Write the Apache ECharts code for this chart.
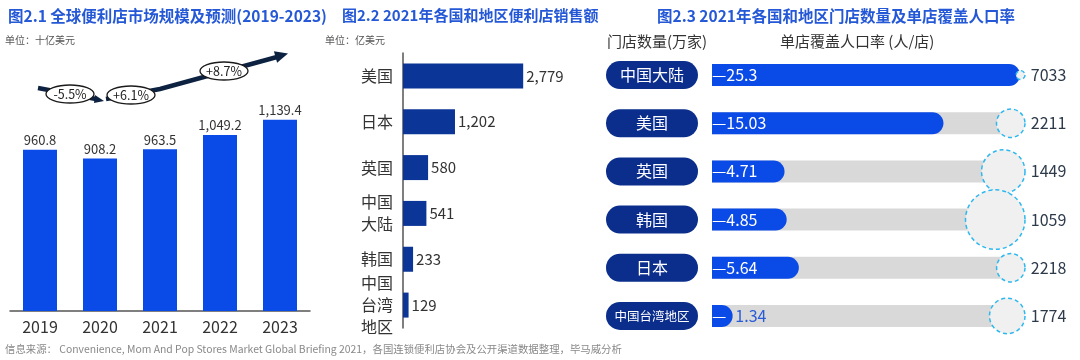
<!DOCTYPE html>
<html lang="zh">
<head>
<meta charset="UTF-8">
<title>便利店</title>
<script src="https://cdn.jsdelivr.net/npm/echarts@6/dist/echarts.min.js"></script>
<style>
  html, body { margin: 0; padding: 0; background: #fff; }
  #main { width: 1080px; height: 360px; }
</style>
</head>
<body>
<div id="main"></div>
<script type="text/javascript">
  // 图2.1
  var years = ['2019', '2020', '2021', '2022', '2023'];
  var marketSize = [960.8, 908.2, 963.5, 1049.2, 1139.4];
  var growthLabels = ['-5.5%', '+6.1%', '+8.7%'];
  // 图2.2
  var salesRegions = ['美国', '日本', '英国', '中国\n大陆', '韩国', '中国\n台湾\n地区'];
  var salesValues = [2779, 1202, 580, 541, 233, 129];
  // 图2.3
  var storeRegions = ['中国大陆', '美国', '英国', '韩国', '日本', '中国台湾地区'];
  var storeCounts = [25.3, 15.03, 4.71, 4.85, 5.64, 1.34];
  var coverage = [7033, 2211, 1449, 1059, 2218, 1774];

  var FONT = '"Noto Sans CJK SC", "Noto Sans", sans-serif';
  var TITLE_BLUE = '#2458d6';
  var BRIGHT = '#0a4ae6';
  var NAVY = '#0b3596';
  var PILL = '#0b2e8c';

  function titleText(text, left, top, size, color, weight) {
    return {
      text: text, left: left, top: top, padding: 0,
      textStyle: { fontFamily: FONT, fontSize: size, color: color, fontWeight: weight || 'normal' }
    };
  }

  var chart = echarts.init(document.getElementById('main'));

  // arrow + growth ellipses (annotation)
  var ellipses = [[70, 94], [131, 95], [224, 71]];
  var graphics = [
    { type: 'polyline', z: 10, shape: { points: [[38, 88], [96, 99]] }, style: { stroke: '#0d2240', lineWidth: 4.5, fill: null } },
    { type: 'polygon', z: 10, shape: { points: [[104, 101], [95, 95], [94, 103]] }, style: { fill: '#0d2240' } },
    { type: 'polyline', z: 10, shape: { points: [[106, 99], [160, 89], [277, 57]] }, style: { stroke: '#0d2240', lineWidth: 4.5, fill: null } },
    { type: 'polygon', z: 10, shape: { points: [[288, 53.5], [277.1, 62.8], [273.9, 51.2]] }, style: { fill: '#0d2240' } }
  ];
  ellipses.forEach(function (c, i) {
    graphics.push({
      type: 'ellipse', z: 11, shape: { cx: c[0], cy: c[1], rx: 24, ry: 9 },
      style: { fill: '#fff', stroke: '#1a1a1a', lineWidth: 1.3 }
    });
    graphics.push({
      type: 'text', z: 12, x: c[0], y: c[1],
      style: { text: growthLabels[i], fontFamily: FONT, fontSize: 12.5, fill: '#222', align: 'center', verticalAlign: 'middle' }
    });
  });

  var option = {
    animation: false,
    backgroundColor: '#fff',
    title: [
      titleText('图2.1 全球便利店市场规模及预测(2019-2023)', 8, 8, 15.5, TITLE_BLUE, 'bold'),
      titleText('单位：十亿美元', 5, 35, 10, '#555'),
      titleText('图2.2 2021年各国和地区便利店销售额', 342, 8, 15, TITLE_BLUE, 'bold'),
      titleText('单位：亿美元', 325, 35, 10, '#555'),
      titleText('图2.3 2021年各国和地区门店数量及单店覆盖人口率', 657, 8, 15.5, TITLE_BLUE, 'bold'),
      titleText('门店数量(万家)', 607, 34, 15, '#333'),
      titleText('单店覆盖人口率 (人/店)', 780, 34, 15, '#333'),
      titleText('信息来源： Convenience, Mom And Pop Stores Market Global Briefing 2021，各国连锁便利店协会及公开渠道数据整理，毕马威分析', 5, 344, 10.4, '#888')
    ],
    graphic: graphics,
    grid: [
      { left: 10, top: 76, width: 300, height: 235 },
      { left: 403, top: 53, width: 173, height: 275 },
      { left: 712, top: 51, width: 308, height: 289 }
    ],
    xAxis: [
      {
        gridIndex: 0, type: 'category', data: years,
        axisLine: { lineStyle: { color: '#555', width: 1.5 } },
        axisTick: { show: false },
        axisLabel: { fontFamily: FONT, fontSize: 16, color: '#333', margin: 8 }
      },
      { gridIndex: 1, type: 'value', min: 0, max: 4000, show: false },
      { gridIndex: 2, type: 'value', min: 0, max: 20, show: false }
    ],
    yAxis: [
      { gridIndex: 0, type: 'value', min: 0, max: 1400, show: false },
      {
        gridIndex: 1, type: 'category', data: salesRegions, inverse: true,
        axisLine: { lineStyle: { color: '#555', width: 1.5 } },
        axisTick: { show: false },
        axisLabel: { fontFamily: FONT, fontSize: 16, lineHeight: 22, color: '#333', margin: 10 }
      },
      {
        gridIndex: 2, type: 'category', data: storeRegions, inverse: true,
        axisLine: { show: false }, axisTick: { show: false },
        axisLabel: {
          margin: 60, align: 'center',
          fontFamily: FONT, fontSize: 16, color: '#fff',
          backgroundColor: PILL, borderRadius: 14,
          width: 92, height: 28, lineHeight: 28, padding: 0,
          formatter: function (v) { return v.length > 4 ? '{s|' + v + '}' : v; },
          rich: { s: { fontFamily: FONT, fontSize: 12.5, color: '#fff' } }
        }
      }
    ],
    series: [
      {
        type: 'bar', xAxisIndex: 0, yAxisIndex: 0, data: marketSize, barWidth: 34,
        itemStyle: { color: BRIGHT },
        label: {
          show: true, position: 'top', distance: 3, fontFamily: FONT, fontSize: 13, color: '#333',
          formatter: function (p) { return p.value.toLocaleString('en-US', { minimumFractionDigits: 1 }); }
        }
      },
      {
        type: 'bar', xAxisIndex: 1, yAxisIndex: 1, data: salesValues, barWidth: 25,
        itemStyle: { color: NAVY },
        label: {
          show: true, position: 'right', distance: 3, fontFamily: FONT, fontSize: 15, color: '#333',
          formatter: function (p) { return p.value.toLocaleString('en-US'); }
        }
      },
      {
        type: 'bar', xAxisIndex: 2, yAxisIndex: 2, data: storeCounts, barWidth: 22,
        showBackground: true,
        backgroundStyle: { color: '#d9d9d9', borderRadius: [0, 11, 11, 0] },
        itemStyle: { color: BRIGHT, borderRadius: [0, 11, 11, 0] },
        label: {
          show: true, position: 'insideLeft', distance: 0, fontFamily: FONT, fontSize: 16, color: '#fff',
          formatter: function (p) {
            return p.value < 2 ? '{w|—}{b|' + p.value + '}' : '—' + p.value;
          },
          rich: {
            w: { fontFamily: FONT, fontSize: 16, color: '#fff' },
            b: { fontFamily: FONT, fontSize: 16, color: '#2a5bd7', padding: [0, 0, 0, 9] }
          }
        }
      },
      {
        type: 'scatter', xAxisIndex: 2, yAxisIndex: 2, clip: false, z: 5,
        data: coverage.map(function (v, i) {
          var d = 63000 / v;
          return { value: [20, i, v], symbolSize: d, symbolOffset: [5 - d / 2, 0] };
        }),
        itemStyle: { color: '#f0f0f0', borderColor: '#2cb8ef', borderWidth: 1.5, borderType: [4, 3], opacity: 1 },
        label: {
          show: true, position: 'right', distance: 5, fontFamily: FONT, fontSize: 16, color: '#2d3a4a',
          formatter: function (p) { return p.value[2]; }
        }
      }
    ]
  };

  chart.setOption(option);
</script>
</body>
</html>
